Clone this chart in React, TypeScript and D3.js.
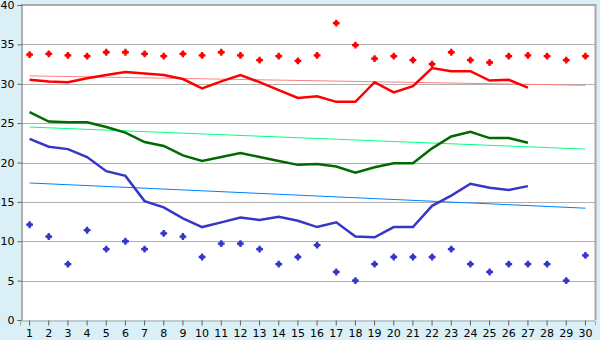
import React, { useRef, useEffect } from 'react'
import * as d3 from 'd3'

const days = d3.range(1, 31)
const yTicks = [0, 5, 10, 15, 20, 25, 30, 35, 40]

// daily extremes (dots)
const maxDots = [33.7, 33.8, 33.6, 33.5, 34.0, 34.0, 33.8, 33.5, 33.8, 33.6,
  34.0, 33.6, 33.0, 33.5, 32.9, 33.6, 37.7, 34.9, 33.2, 33.5,
  33.0, 32.5, 34.0, 33.0, 32.7, 33.5, 33.6, 33.5, 33.0, 33.5]
const minDots = [12.1, 10.6, 7.1, 11.4, 9.0, 10.0, 9.0, 11.0, 10.6, 8.0,
  9.7, 9.7, 9.0, 7.1, 8.0, 9.5, 6.1, 5.0, 7.1, 8.0,
  8.0, 8.0, 9.0, 7.1, 6.1, 7.1, 7.1, 7.1, 5.0, 8.2]

// lines, days 1..27
const maxLine = [30.5, 30.3, 30.2, 30.7, 31.1, 31.5, 31.3, 31.1, 30.6, 29.4,
  30.3, 31.1, 30.2, 29.2, 28.2, 28.4, 27.7, 27.7, 30.2, 28.9,
  29.7, 32.0, 31.6, 31.6, 30.4, 30.5, 29.5]
const meanLine = [26.4, 25.2, 25.1, 25.1, 24.5, 23.8, 22.6, 22.1, 20.9, 20.2,
  20.7, 21.2, 20.7, 20.2, 19.7, 19.8, 19.5, 18.7, 19.4, 19.9,
  19.9, 21.8, 23.3, 23.9, 23.1, 23.1, 22.5]
const minLine = [23.0, 22.0, 21.7, 20.7, 18.9, 18.3, 15.1, 14.3, 12.9, 11.8,
  12.4, 13.0, 12.7, 13.1, 12.6, 11.8, 12.4, 10.6, 10.5, 11.8,
  11.8, 14.5, 15.8, 17.3, 16.8, 16.5, 17.0]

// trend lines: value at day 1 and day 30
const maxTrend = [31.0, 29.8]
const meanTrend = [24.5, 21.7]
const minTrend = [17.4, 14.2]

export default function App() {
  const ref = useRef<SVGSVGElement>(null)
  const w = 600
  const h = 340
  const left = 21, right = 595, top = 5, bottom = 320

  useEffect(() => {
    const svg = d3.select(ref.current)
    svg.selectAll('*').remove()

    const x = d3.scaleBand<number>().domain(days).range([left - 1, right])
    const cx = (d: number) => (x(d) as number) + x.bandwidth() / 2
    const y = d3.scaleLinear().domain([0, 40]).range([bottom, top])

    svg.append('rect').attr('width', w).attr('height', h).attr('fill', '#daeff6')
    svg.append('rect')
      .attr('x', left).attr('y', top)
      .attr('width', right - left).attr('height', bottom - top)
      .attr('fill', '#fff')

    // grid
    svg.append('g').selectAll('line')
      .data(yTicks.filter(t => t > 0))
      .enter().append('line')
      .attr('x1', left).attr('x2', right)
      .attr('y1', d => Math.round(y(d)) + 0.5).attr('y2', d => Math.round(y(d)) + 0.5)
      .attr('stroke', '#b0b0b0')

    // border top/right
    svg.append('line').attr('x1', left).attr('x2', right + 1)
      .attr('y1', top).attr('y2', top).attr('stroke', '#a8a8a8').attr('stroke-width', 2)
    svg.append('line').attr('x1', right + 0.5).attr('x2', right + 0.5)
      .attr('y1', top - 1).attr('y2', bottom).attr('stroke', '#a8a8a8').attr('stroke-width', 2)

    const lineGen = (arr: number[]) => d3.line<number>()
      .x((d, i) => cx(days[i]))
      .y(d => y(d))(arr)

    const trendGen = (arr: number[]) => d3.line<number>()
      .x((d, i) => cx(i === 0 ? days[0] : days[days.length - 1]))
      .y(d => y(d))(arr)

    const trends: [number[], string][] = [
      [maxTrend, '#ff8080'], [meanTrend, '#00ff80'], [minTrend, '#0080ff']]
    trends.forEach(([arr, c]) => {
      svg.append('path').attr('d', trendGen(arr)).attr('fill', 'none')
        .attr('stroke', c).attr('stroke-width', 1)
    })

    const lines: [number[], string][] = [
      [maxLine, '#ff0000'], [meanLine, '#006a00'], [minLine, '#3636c8']]
    lines.forEach(([arr, c]) => {
      svg.append('path').attr('d', lineGen(arr)).attr('fill', 'none')
        .attr('stroke', c).attr('stroke-width', 2.5)
    })

    const cross = d3.symbol().type(d3.symbolCross).size(26)
    const dots: [number[], string][] = [[maxDots, '#ff0000'], [minDots, '#3636c8']]
    dots.forEach(([arr, c]) => {
      const g = svg.append('g')
      g.selectAll('path')
        .data(arr)
        .enter().append('path')
        .attr('d', cross)
        .attr('transform', (d, i) => `translate(${cx(days[i])},${y(d)})`)
        .attr('fill', c)
      g.selectAll('rect')
        .data(arr)
        .enter().append('rect')
        .attr('x', (d, i) => cx(days[i]) - 2)
        .attr('y', d => y(d) - 2)
        .attr('width', 4).attr('height', 4)
        .attr('fill', c)
    })

    // axes
    const yAxis = d3.axisLeft(y).tickValues(yTicks).tickSize(4).tickPadding(3)
    const ga = svg.append('g').attr('transform', `translate(${left + 0.5},0)`).call(yAxis)
    const xAxis = d3.axisBottom(x).tickSize(5).tickPadding(4)
    const gb = svg.append('g').attr('transform', `translate(0,${bottom + 0.5})`).call(xAxis)
    ;[ga, gb].forEach(g => {
      g.selectAll('path,line').attr('stroke', '#606060')
      g.selectAll('text')
        .style('font-family', 'DejaVu Sans')
        .style('font-size', '11px')
        .attr('fill', '#000')
    })
    gb.select('.domain').attr('stroke', '#a8a8a8')
  }, [])

  return (
    <div style={{ position: 'absolute', left: 0, top: 0 }}>
      <svg ref={ref} width={w} height={h} />
    </div>
  )
}
